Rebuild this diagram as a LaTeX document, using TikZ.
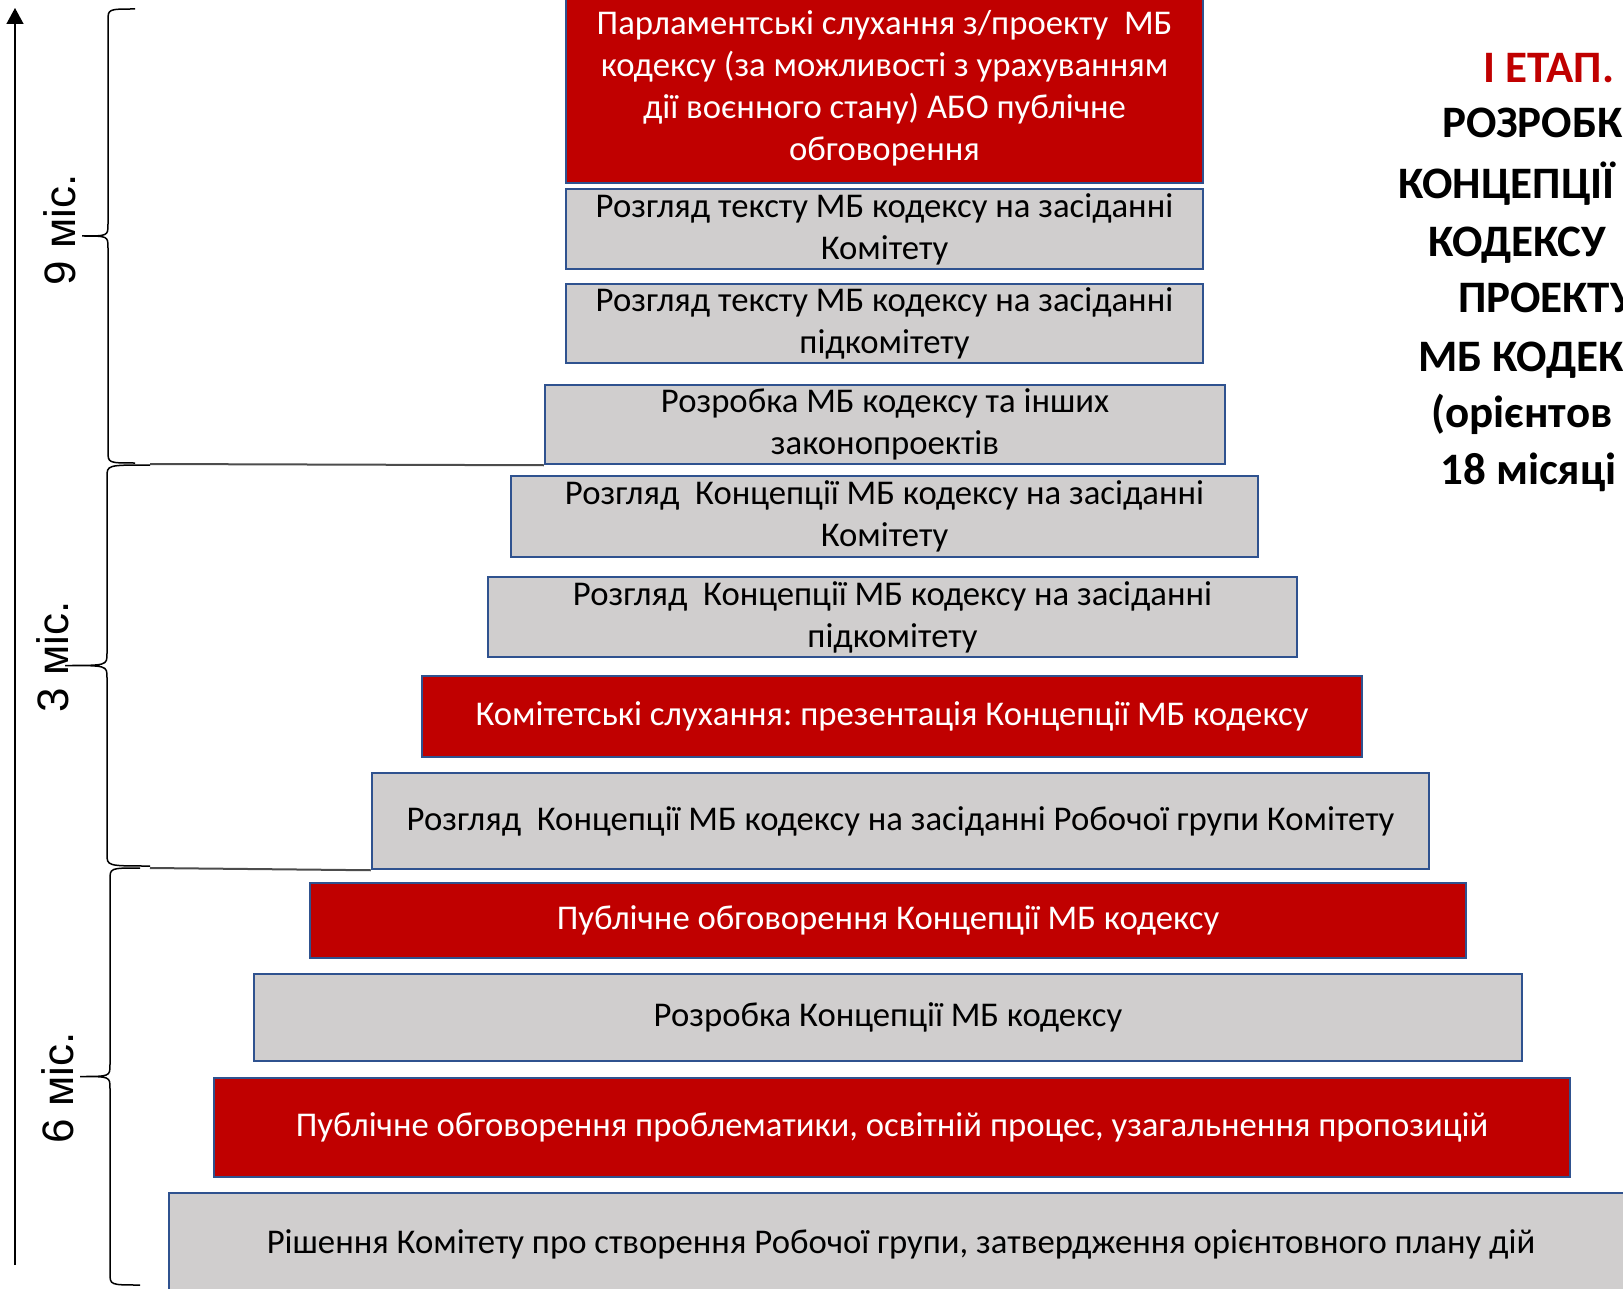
\documentclass[tikz,border=0pt]{standalone}
\usepackage{fontspec}
\setmainfont{Carlito}
\newfontfamily\monthfont{Liberation Sans}
\usetikzlibrary{arrows.meta}
\definecolor{myred}{RGB}{192,0,0}
\definecolor{mygrey}{RGB}{208,206,206}
\definecolor{myblue}{RGB}{47,82,143}
\frenchspacing

\tikzset{
    stepbox/.style={draw=myblue, line width=2.5pt, inner sep=0pt, align=center,
        font=\fontsize{34.7}{42}\selectfont},
    greybox/.style={stepbox, fill=mygrey, text=black},
    redbox/.style={stepbox, fill=myred, text=white},
    monthlabel/.style={rotate=90, font=\monthfont\fontsize{44}{50}\selectfont},
    titleline/.style={anchor=base west, inner sep=0pt, font=\bfseries\fontsize{45}{57}\selectfont},
    separator/.style={draw=black!70, line width=2pt}
}

% Brace pointing left: x end, x back, x tip, y top, y bottom.
\newcommand{\monthbrace}[5]{%
    \draw[line width=1.5pt] (#1,#4) .. controls (#2,#4) .. (#2,{#4+12})
        -- (#2,{(#4+#5)/2-12}) .. controls (#2,{(#4+#5)/2}) .. (#3,{(#4+#5)/2})
        .. controls (#2,{(#4+#5)/2}) .. (#2,{(#4+#5)/2+12})
        -- (#2,{#5-12}) .. controls (#2,#5) .. (#1,#5);
}

\begin{document}
\begin{tikzpicture}[x=1pt, y=-1pt]
\useasboundingbox (0,0) rectangle (1623,1289);

% Steps of the pyramid (top to bottom).
\node[redbox, minimum width=637pt, minimum height=189pt] (S1) at (884.5, 88.5)
    {Парламентські слухання з/проекту~ МБ\\ кодексу (за можливості з урахуванням\\ дії воєнного стану) АБО публічне\\ обговорення};
\node[greybox, minimum width=637pt, minimum height=80pt] (S2) at (884.5, 229)
    {Розгляд тексту МБ кодексу на засіданні\\ Комітету};
\node[greybox, minimum width=637pt, minimum height=79pt] (S3) at (884.5, 323.5)
    {Розгляд тексту МБ кодексу на засіданні\\ підкомітету};
\node[greybox, minimum width=680pt, minimum height=79pt] (S4) at (885, 424.5)
    {Розробка МБ кодексу та інших\\ законопроектів};
\node[greybox, minimum width=747pt, minimum height=81pt] (S5) at (884.5, 516.5)
    {Розгляд~ Концепції МБ кодексу на засіданні\\ Комітету};
\node[greybox, minimum width=809pt, minimum height=80pt] (S6) at (892.5, 617)
    {Розгляд~ Концепції МБ кодексу на засіданні\\ підкомітету};
\node[redbox, minimum width=940pt, minimum height=81pt] (S7) at (892, 716.5)
    {Комітетські слухання: презентація Концепції МБ кодексу};
\node[greybox, minimum width=1057pt, minimum height=96pt] (S8) at (900.5, 821)
    {Розгляд~ Концепції МБ кодексу на засіданні Робочої групи Комітету};
\node[redbox, minimum width=1156pt, minimum height=75pt] (S9) at (888, 920.5)
    {Публічне обговорення Концепції МБ кодексу};
\node[greybox, minimum width=1268pt, minimum height=87pt] (S10) at (888, 1017.5)
    {Розробка Концепції МБ кодексу};
\node[redbox, minimum width=1356pt, minimum height=99pt] (S11) at (892, 1127.5)
    {Публічне обговорення проблематики, освітній процес, узагальнення пропозицій};
\node[greybox, minimum width=1464pt, minimum height=102pt] (S12) at (901, 1244)
    {Рішення Комітету про створення Робочої групи, затвердження орієнтовного плану дій};

% Time axis.
\coordinate (AxisBottom) at (15, 1265);
\coordinate (AxisTop) at (15, 8);
\draw[line width=1.5pt, -{Triangle[length=16pt, width=17pt]}] (AxisBottom) -- (AxisTop);

% Braces and separators.
\monthbrace{135}{108}{82}{9}{463}
\monthbrace{150}{107}{65}{465}{866}
\monthbrace{140}{110}{80}{868}{1285}
\coordinate (Sep1) at (150, 464);
\coordinate (Sep2) at (150, 868);
\draw[separator] (Sep1) -- (S4.south west);
\draw[separator] (Sep2) -- (S8.south west);

\node[monthlabel] (M9) at (60, 230) {9 міс.};
\node[monthlabel] (M3) at (53, 657) {3 міс.};
\node[monthlabel] (M6) at (58, 1088) {6 міс.};

% Title (cut at the right edge).
\node[titleline, text=myred] (T1) at (1483, 83) {І ЕТАП.};
\node[titleline] (T2) at (1442, 138) {РОЗРОБК};
\node[titleline] (T3) at (1398, 199) {КОНЦЕПЦІЇ};
\node[titleline] (T4) at (1428, 257) {КОДЕКСУ};
\node[titleline] (T5) at (1458, 313) {ПРОЕКТУ};
\node[titleline] (T6) at (1418, 371) {МБ КОДЕК};
\node[titleline] (T7) at (1431, 427) {(орієнтов};
\node[titleline] (T8) at (1440, 484) {18 місяці};

\end{tikzpicture}
\end{document}
